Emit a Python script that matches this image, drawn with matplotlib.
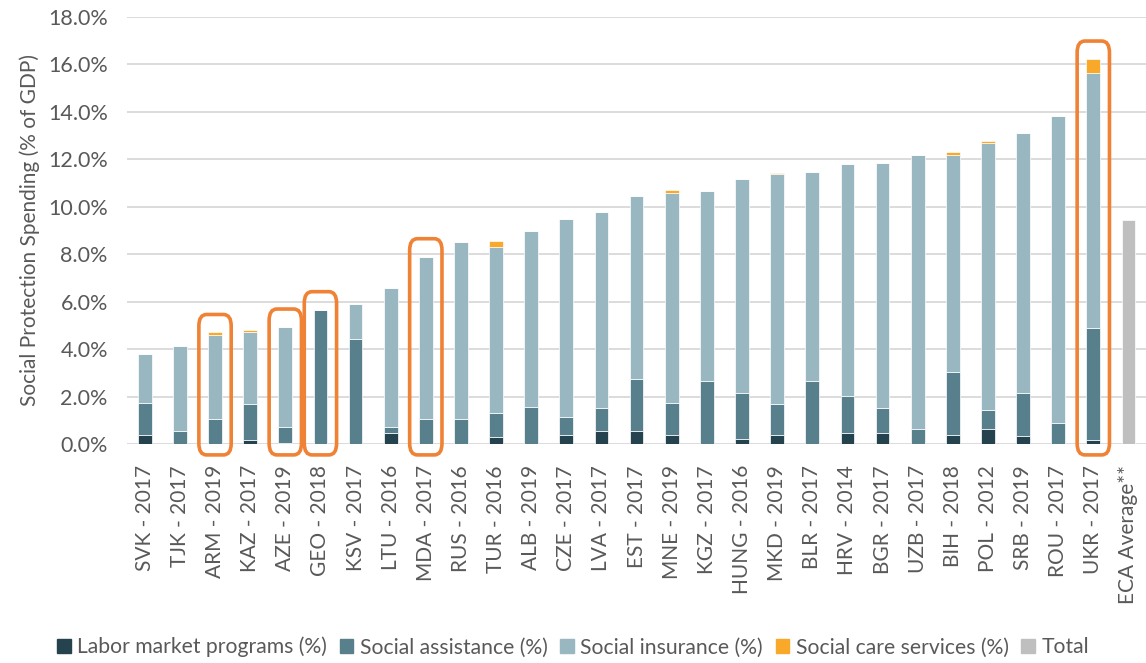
import matplotlib
matplotlib.use("Agg")
import matplotlib.pyplot as plt
from matplotlib.patches import FancyBboxPatch, Patch
from matplotlib.ticker import FuncFormatter, MultipleLocator
import numpy as np

plt.rcParams['font.family'] = ['Lato', 'DejaVu Sans']

categories = ["SVK - 2017", "TJK - 2017", "ARM - 2019", "KAZ - 2017", "AZE - 2019",
              "GEO - 2018", "KSV - 2017", "LTU - 2016", "MDA - 2017", "RUS - 2016",
              "TUR - 2016", "ALB - 2019", "CZE - 2017", "LVA - 2017", "EST - 2017",
              "MNE - 2019", "KGZ - 2017", "HUNG - 2016", "MKD - 2019", "BLR - 2017",
              "HRV - 2014", "BGR - 2017", "UZB - 2017", "BIH - 2018", "POL - 2012",
              "SRB - 2019", "ROU - 2017", "UKR - 2017", "ECA Average**"]

# shares of GDP (%), one value per country (ECA average shown only as total)
labor_market = [0.38, 0.00, 0.00, 0.19, 0.05, 0.00, 0.00, 0.46, 0.00, 0.00,
                0.32, 0.00, 0.38, 0.56, 0.56, 0.40, 0.00, 0.24, 0.38, 0.00,
                0.46, 0.46, 0.00, 0.40, 0.66, 0.34, 0.00, 0.19, 0.00]
social_assistance = [1.37, 0.56, 1.08, 1.52, 0.69, 5.67, 4.42, 0.28, 1.08, 1.08,
                     0.98, 1.56, 0.78, 0.98, 2.20, 1.33, 2.66, 1.93, 1.30, 2.66,
                     1.59, 1.08, 0.66, 2.66, 0.80, 1.83, 0.91, 4.72, 0.00]
social_insurance = [2.04, 3.59, 3.53, 3.00, 4.20, 0.00, 1.50, 5.83, 6.82, 7.43,
                    7.02, 7.43, 8.32, 8.24, 7.70, 8.85, 8.01, 9.00, 9.71, 8.80,
                    9.75, 10.31, 11.52, 9.10, 11.22, 10.93, 12.92, 10.72, 0.00]
social_care = [0.00, 0.00, 0.10, 0.10, 0.00, 0.00, 0.00, 0.00, 0.00, 0.00,
               0.22, 0.00, 0.00, 0.00, 0.00, 0.12, 0.00, 0.00, 0.02, 0.00,
               0.00, 0.00, 0.00, 0.14, 0.09, 0.00, 0.00, 0.59, 0.00]
total = [0.00] * 28 + [9.44]

highlighted = ["ARM - 2019", "AZE - 2019", "GEO - 2018", "MDA - 2017", "UKR - 2017"]

c_lmp = "#25434f"
c_sa = "#57808c"
c_si = "#98b7c1"
c_sc = "#f9a92a"
c_tot = "#bfbfbf"
c_box = "#ef8235"
c_text = "#595959"

fig = plt.figure(figsize=(11.46, 6.63), dpi=100)
ax = fig.add_axes([0.111, 0.330, 0.889, 0.645])

x = np.arange(len(categories))
w = 0.39
lmp = np.array(labor_market)
sa = np.array(social_assistance)
si = np.array(social_insurance)
sc = np.array(social_care)
tot = np.array(total)

kw = dict(width=w, edgecolor="white", linewidth=0.5, zorder=3)
ax.bar(x, lmp, color=c_lmp, label="Labor market programs (%)", **kw)
ax.bar(x, sa, bottom=lmp, color=c_sa, label="Social assistance (%)", **kw)
ax.bar(x, si, bottom=lmp + sa, color=c_si, label="Social insurance (%)", **kw)
ax.bar(x, sc, bottom=lmp + sa + si, color=c_sc, label="Social care services (%)", **kw)
ax.bar(x, tot, color=c_tot, label="Total", **kw)

ax.set_xlim(-0.5, len(categories) - 0.5)
ax.set_ylim(0, 18)
ax.yaxis.set_major_locator(MultipleLocator(2))
ax.yaxis.set_major_formatter(FuncFormatter(lambda v, p: f"{v:.1f}%"))
ax.grid(axis="y", color="#d9d9d9", linewidth=1.3, zorder=0)
ax.set_axisbelow(True)
for s in ax.spines.values():
    s.set_visible(False)
ax.tick_params(axis="both", length=0, colors=c_text)
ax.tick_params(axis="y", pad=14, labelsize=15.5)
ax.set_xticks(x)
ax.set_xticklabels(categories, rotation=90, fontsize=15)
ax.tick_params(axis="x", pad=15)
ax.set_ylabel("Social Protection Spending (% of GDP)", fontsize=15, color=c_text, labelpad=6)

# rounded frames around the highlighted countries
stack_top = lmp + sa + si + sc
for name in highlighted:
    i = categories.index(name)
    top = stack_top[i] + 0.75
    bottom = -0.45
    half = 0.46
    box = FancyBboxPatch((i - half, bottom), 2 * half, top - bottom,
                         boxstyle="round,pad=0,rounding_size=0.22",
                         mutation_aspect=2.2,
                         facecolor="none", edgecolor=c_box, linewidth=2.6,
                         clip_on=False, zorder=4)
    ax.add_patch(box)

handles = [Patch(color=c) for c in (c_lmp, c_sa, c_si, c_sc, c_tot)]
labels = ["Labor market programs (%)", "Social assistance (%)", "Social insurance (%)",
          "Social care services (%)", "Total"]
leg = fig.legend(handles, labels, loc="center", bbox_to_anchor=(0.5, 0.024), ncol=5,
                 frameon=False, fontsize=15.2, handlelength=0.65, handleheight=0.7,
                 handletextpad=0.3, columnspacing=0.6)
for t in leg.get_texts():
    t.set_color(c_text)

fig.savefig("out.png", dpi=100)
